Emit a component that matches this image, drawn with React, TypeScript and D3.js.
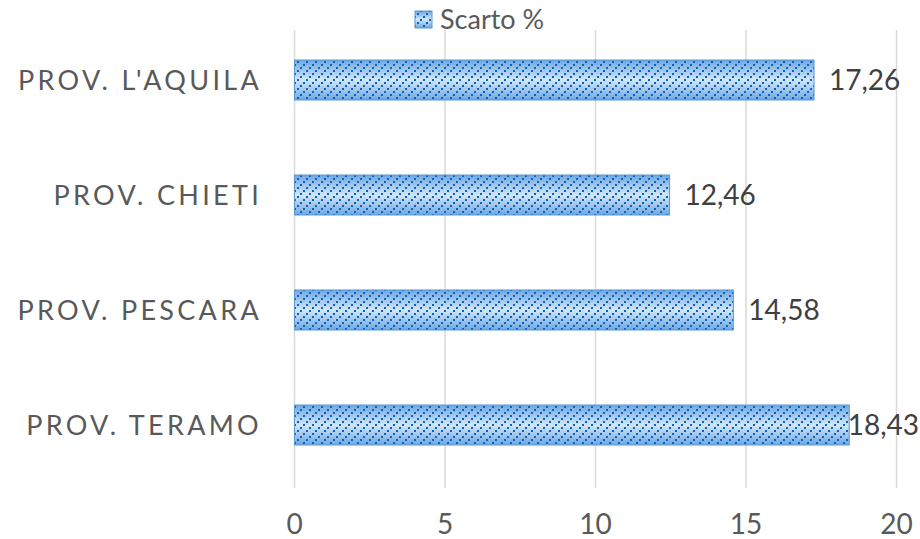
import React from "react";
import * as d3 from "d3";

const categories = ["PROV. L'AQUILA", "PROV. CHIETI", "PROV. PESCARA", "PROV. TERAMO"];
const values = [17.26, 12.46, 14.58, 18.43];
const ticks = [0, 5, 10, 15, 20];
const seriesName = "Scarto %";

const W = 920;
const H = 539;
const FONT = "Lato, 'Open Sans', sans-serif";

export default function App() {
  const x = d3.scaleLinear().domain([0, 20]).range([294.5, 896.5]);
  const y = d3
    .scaleBand<string>()
    .domain(categories)
    .range([22.5, 482.5])
    .paddingInner(0.652)
    .paddingOuter(0.326);
  const fmt = (v: number) => v.toFixed(2).replace(".", ",");

  return (
    <svg width={W} height={H} style={{ position: "absolute", left: 0, top: 0 }}>
      <defs>
        <linearGradient id="barGrad" x1="0" y1="0" x2="0" y2="1">
          <stop offset="0" stopColor="#6fa7e0" />
          <stop offset="0.5" stopColor="#d2e6f8" />
          <stop offset="1" stopColor="#6fa7e0" />
        </linearGradient>
        <pattern id="hatch" patternUnits="userSpaceOnUse" width="9" height="9">
          <rect x="0" y="7" width="2" height="2" fill="#0763c8" />
          <rect x="3" y="4" width="2" height="2" fill="#0763c8" />
          <rect x="6" y="1" width="2" height="2" fill="#0763c8" />
        </pattern>
      </defs>
      <rect width={W} height={H} fill="#ffffff" />
      {ticks.map((t) => (
        <line key={t} x1={x(t)} x2={x(t)} y1={30} y2={488} stroke="#d9d9d9" strokeWidth={1.5} />
      ))}
      {ticks.map((t) => (
        <text key={"t" + t} x={x(t)} y={534} textAnchor="middle" fontFamily={FONT} fontSize={28} fill="#595959">
          {t}
        </text>
      ))}
      {categories.map((c, i) => {
        const by = y(c)!;
        const bh = y.bandwidth();
        const x0 = x(0);
        const x1 = x(values[i]);
        const labelW = 72;
        const over = x1 + 15 + labelW > 919;
        return (
          <g key={c}>
            <rect x={x0} y={by} width={x1 - x0} height={bh} fill="url(#barGrad)" />
            <rect x={x0} y={by} width={x1 - x0} height={bh} fill="url(#hatch)" />
            <rect x={x0} y={by} width={x1 - x0} height={bh} fill="none" stroke="#5b9bd5" strokeWidth={1} />
            <text
              x={262}
              y={by + bh / 2}
              dy="0.36em"
              textAnchor="end"
              fontFamily={FONT}
              fontSize={27}
              letterSpacing={3.3}
              fill="#595959"
            >
              {c}
            </text>
            <text
              x={over ? 919 : x1 + 15}
              y={by + bh / 2}
              dy="0.36em"
              textAnchor={over ? "end" : "start"}
              fontFamily={FONT}
              fontSize={28}
              fill="#404040"
            >
              {fmt(values[i])}
            </text>
          </g>
        );
      })}
      <g>
        <rect x={415} y={11} width={17} height={17} fill="url(#barGrad)" />
        <rect x={415} y={11} width={17} height={17} fill="url(#hatch)" />
        <rect x={415} y={11} width={17} height={17} fill="none" stroke="#5b9bd5" />
        <text x={440} y={19.5} dy="0.36em" fontFamily={FONT} fontSize={27} fill="#595959">
          {seriesName}
        </text>
      </g>
    </svg>
  );
}
